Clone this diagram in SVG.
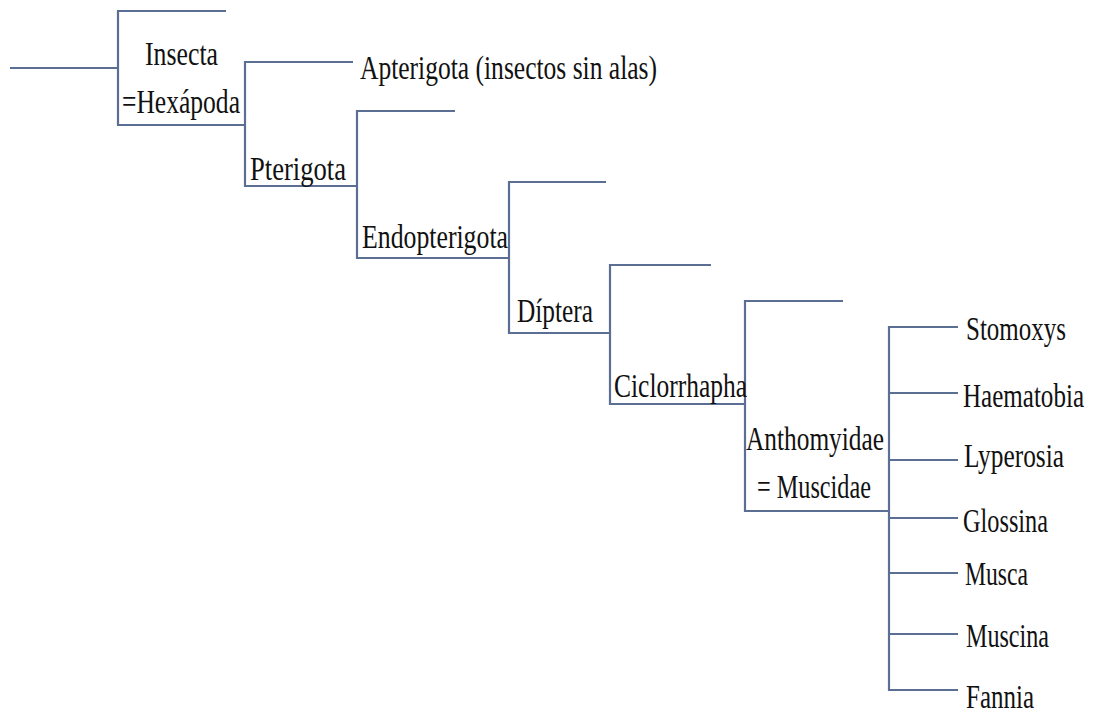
<svg xmlns="http://www.w3.org/2000/svg" width="1099" height="713" viewBox="0 0 1099 713">
<style>
.c{stroke:#5b6e94;stroke-width:2.2;fill:none}
.t{font-family:"Liberation Serif",serif;font-size:34px;fill:#111}
</style>
<rect width="1099" height="713" fill="#fff"/>
<g id="connectors">
<path class="c" d="M10 68H118M226 11H118V125H245"/>
<path class="c" d="M353 62H245V186H357"/>
<path class="c" d="M455 111H357V258H509"/>
<path class="c" d="M606 182H509V333H610"/>
<path class="c" d="M711 265H610V404H745"/>
<path class="c" d="M843 301H745V511H889"/>
<path class="c" d="M958 327H889V690H958M889 393H958M889 460H958M889 518H958M889 573H958M889 634H958"/>
</g>
<g id="insecta"><text class="t" x="145" y="65" textLength="73" lengthAdjust="spacingAndGlyphs">Insecta</text><text class="t" x="122" y="113" textLength="118" lengthAdjust="spacingAndGlyphs">=Hexápoda</text></g>
<g id="apterigota"><text class="t" x="360" y="79" textLength="297" lengthAdjust="spacingAndGlyphs">Apterigota (insectos sin alas)</text></g>
<g id="pterigota"><text class="t" x="250" y="180" textLength="96" lengthAdjust="spacingAndGlyphs">Pterigota</text></g>
<g id="endopterigota"><text class="t" x="362" y="248" textLength="146" lengthAdjust="spacingAndGlyphs">Endopterigota</text></g>
<g id="diptera"><text class="t" x="517" y="322" textLength="76" lengthAdjust="spacingAndGlyphs">Díptera</text></g>
<g id="ciclorrhapha"><text class="t" x="614" y="397" textLength="133" lengthAdjust="spacingAndGlyphs">Ciclorrhapha</text></g>
<g id="anthomyidae"><text class="t" x="746" y="450" textLength="138" lengthAdjust="spacingAndGlyphs">Anthomyidae</text><text class="t" x="757" y="498" textLength="114" lengthAdjust="spacingAndGlyphs">= Muscidae</text></g>
<g id="stomoxys"><text class="t" x="966" y="340" textLength="100" lengthAdjust="spacingAndGlyphs">Stomoxys</text></g>
<g id="haematobia"><text class="t" x="963" y="407" textLength="121" lengthAdjust="spacingAndGlyphs">Haematobia</text></g>
<g id="lyperosia"><text class="t" x="964" y="467" textLength="100" lengthAdjust="spacingAndGlyphs">Lyperosia</text></g>
<g id="glossina"><text class="t" x="963" y="532" textLength="85" lengthAdjust="spacingAndGlyphs">Glossina</text></g>
<g id="musca"><text class="t" x="965" y="585" textLength="63" lengthAdjust="spacingAndGlyphs">Musca</text></g>
<g id="muscina"><text class="t" x="966" y="647" textLength="83" lengthAdjust="spacingAndGlyphs">Muscina</text></g>
<g id="fannia"><text class="t" x="966" y="708" textLength="68" lengthAdjust="spacingAndGlyphs">Fannia</text></g>
</svg>
